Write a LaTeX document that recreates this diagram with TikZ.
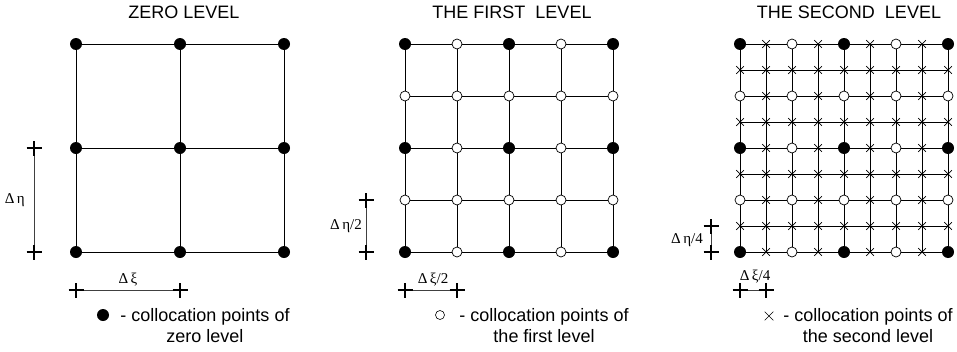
\documentclass[tikz,border=0pt]{standalone}
\usepackage{fontspec}
\setmainfont{Liberation Sans}
\newfontfamily\grk{Liberation Serif}
\usetikzlibrary{shapes.misc}
\begin{document}
\begin{tikzpicture}[x=1pt,y=-1pt,
  gridline/.style={line width=0.9pt,black},
  zdot/.style={circle,fill=black,inner sep=0pt,minimum size=12pt},
  odot/.style={circle,draw=black,fill=white,line width=0.7pt,inner sep=0pt,minimum size=10pt},
  xm/.style={cross out,draw=black,line width=0.7pt,inner sep=0pt,minimum size=7pt},
  dimline/.style={line width=0.8pt,black!75},
  ticky/.style={line width=1.5pt},
  title/.style={font=\fontsize{18}{20}\selectfont},
  legend/.style={font=\fontsize{18}{21}\selectfont,align=center},
  dimlab/.style={font=\grk\fontsize{15}{17}\selectfont,inner sep=0pt}]
\useasboundingbox (0,0) rectangle (957,351);

% titles
\node[title] (t1) at (184,12) {ZERO LEVEL};
\node[title] (t2) at (512,12) {THE FIRST~ LEVEL};
\node[title] (t3) at (849,12) {THE SECOND~ LEVEL};

% grids: panel origins and divisions
\foreach \p/\xo/\n in {1/76/2, 2/405/4, 3/740/8}{
  \foreach \i in {0,...,\n}{
    \pgfmathsetmacro\xx{\xo+\i*208/\n}
    \pgfmathsetmacro\yy{44+\i*208/\n}
    \coordinate (v\p-\i-a) at (\xx,44);
    \coordinate (v\p-\i-b) at (\xx,252);
    \coordinate (h\p-\i-a) at (\xo,\yy);
    \coordinate (h\p-\i-b) at (\xo+208,\yy);
    \draw[gridline] (v\p-\i-a) -- (v\p-\i-b);
    \draw[gridline] (h\p-\i-a) -- (h\p-\i-b);
  }
}

% markers panel 1
\foreach \i in {0,1,2}{\foreach \j in {0,1,2}{
  \node[zdot] (a-\i-\j) at (76+\i*104,44+\j*104) {};
}}
% markers panel 2
\foreach \i in {0,...,4}{\foreach \j in {0,...,4}{
  \pgfmathtruncatemacro\k{(mod(\i,2)==0 && mod(\j,2)==0) ? 1 : 0}
  \ifcase\k
    \node[odot] (b-\i-\j) at (405+\i*52,44+\j*52) {};
  \or
    \node[zdot] (b-\i-\j) at (405+\i*52,44+\j*52) {};
  \fi
}}
% markers panel 3
\foreach \i in {0,...,8}{\foreach \j in {0,...,8}{
  \pgfmathtruncatemacro\k{(mod(\i,4)==0 && mod(\j,4)==0) ? 2 : ((mod(\i,2)==0 && mod(\j,2)==0) ? 1 : 0)}
  \ifcase\k
    \node[xm] (c-\i-\j) at (740+\i*26,44+\j*26) {};
  \or
    \node[odot] (c-\i-\j) at (740+\i*26,44+\j*26) {};
  \or
    \node[zdot] (c-\i-\j) at (740+\i*26,44+\j*26) {};
  \fi
}}

% dimension markers
\foreach \n/\x/\ya/\yb in {1/34/148/252, 2/366/200/252, 3/711/226/252}{
  \coordinate (dv\n a) at (\x,\ya);
  \coordinate (dv\n b) at (\x,\yb);
  \draw[dimline] (dv\n a) -- (dv\n b);
  \foreach \e in {a,b}{
    \draw[ticky] ([xshift=-7.5pt]dv\n\e) -- ([xshift=7.5pt]dv\n\e);
    \draw[ticky] ([yshift=-7.5pt]dv\n\e) -- ([yshift=7.5pt]dv\n\e);
  }
}
\foreach \n/\xa/\xb in {1/76/180, 2/405/457, 3/740/766}{
  \coordinate (dh\n a) at (\xa,290);
  \coordinate (dh\n b) at (\xb,290);
  \draw[dimline] (dh\n a) -- (dh\n b);
  \foreach \e in {a,b}{
    \draw[ticky] ([xshift=-7.5pt]dh\n\e) -- ([xshift=7.5pt]dh\n\e);
    \draw[ticky] ([yshift=-7.5pt]dh\n\e) -- ([yshift=7.5pt]dh\n\e);
  }
}
\node[dimlab,anchor=east] (l1) at (25,200) {Δ\,η};
\node[dimlab,anchor=east] (l2) at (362,226) {Δ\,η/2};
\node[dimlab,anchor=east] (l3) at (703,240) {Δ\,η/4};
\node[dimlab] (m1) at (128,280) {Δ\,ξ};
\node[dimlab] (m2) at (433,280) {Δ\,ξ/2};
\node[dimlab] (m3) at (755,277) {Δ\,ξ/4};

% legends
\node[zdot] (s1) at (103,315) {};
\node[legend] (g1) at (205,326) {- collocation points of\\zero level};
\node[odot,line width=0.6pt,minimum size=9pt] (s2) at (440,315) {};
\node[legend] (g2) at (544,326) {- collocation points of\\the first level};
\node[xm,minimum size=8pt,line width=0.6pt] (s3) at (769,316) {};
\node[legend] (g3) at (868,326) {- collocation points of\\the second level};
\end{tikzpicture}
\end{document}
